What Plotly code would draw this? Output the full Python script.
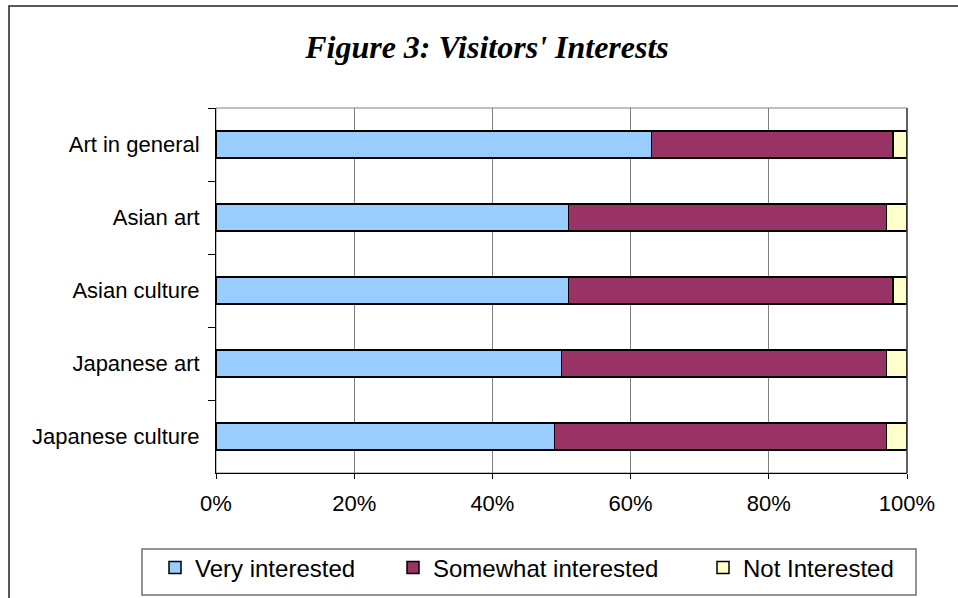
import plotly.graph_objects as go

categories = ["Art in general", "Asian art", "Asian culture", "Japanese art", "Japanese culture"]
very_interested = [63, 51, 51, 50, 49]
somewhat_interested = [35, 46, 47, 47, 48]
not_interested = [2, 3, 2, 3, 3]
x_tick_values = [0, 20, 40, 60, 80, 100]
x_tick_labels = ["0%", "20%", "40%", "60%", "80%", "100%"]

W, H = 958, 598
L, R, T, B = 216, 907, 108, 473  # plot area in px


def px_x(p):
    return (p - L) / (R - L)


def px_y(p):
    return (B - p) / (B - T)


sans = "Liberation Sans, Arial, sans-serif"
serif = "Liberation Serif, Times New Roman, serif"

fig = go.Figure()
series = [
    ("Very interested", very_interested, "#99CCFF", "legend"),
    ("Somewhat interested", somewhat_interested, "#993366", "legend2"),
    ("Not Interested", not_interested, "#FFFFCC", "legend3"),
]
for name, vals, color, lg in series:
    fig.add_trace(go.Bar(
        y=categories, x=vals, name=name, orientation="h",
        marker=dict(color=color, line=dict(color="#000000", width=1.5)),
        legend=lg, showlegend=True,
    ))

legend_common = dict(orientation="h", xanchor="left", yanchor="middle",
                     bgcolor="rgba(0,0,0,0)", borderwidth=0,
                     font=dict(family=sans, size=24, color="#000000"))

fig.update_layout(
    width=W, height=H,
    margin=dict(l=L, r=W - R, t=T, b=H - B, autoexpand=False),
    paper_bgcolor="#FFFFFF",
    plot_bgcolor="rgba(0,0,0,0)",
    barmode="stack",
    bargap=0.63,
    showlegend=True,
    title=dict(text="Figure 3: Visitors' Interests", xref="container", yref="container",
               x=487 / W, xanchor="center", y=1 - 47 / H, yanchor="middle",
               font=dict(family=serif, size=32, color="#000000", weight="bold", style="italic")),
    xaxis=dict(range=[0, 100], tickvals=x_tick_values, ticktext=x_tick_labels,
               showgrid=True, gridcolor="#808080", gridwidth=1,
               showline=True, linecolor="#000000", linewidth=1,
               ticks="outside", ticklen=5, tickcolor="#000000",
               ticklabelstandoff=6,
               tickfont=dict(family=sans, size=22, color="#000000"),
               zeroline=False, fixedrange=True),
    yaxis=dict(autorange="reversed", type="category",
               showline=True, linecolor="#000000", linewidth=1,
               ticks="outside", ticklen=7, tickcolor="#000000", tickson="boundaries",
               ticklabelstandoff=11,
               showgrid=False,
               tickfont=dict(family=sans, size=22, color="#000000")),
    legend=dict(x=px_x(155), y=px_y(568), **legend_common),
    legend2=dict(x=px_x(393), y=px_y(568), **legend_common),
    legend3=dict(x=px_x(703), y=px_y(568), **legend_common),
    shapes=[
        # plot area border
        dict(type="rect", xref="paper", yref="paper", x0=0, x1=1, y0=0, y1=1,
             line=dict(color="#808080", width=1), layer="below"),
        # right edge of plot area (darker, as in the reference)
        dict(type="line", xref="paper", yref="paper", x0=1, x1=1, y0=0, y1=1,
             line=dict(color="#404040", width=1.5)),
        # legend box
        dict(type="rect", xref="paper", yref="paper",
             x0=px_x(142), x1=px_x(916), y0=px_y(549), y1=px_y(595),
             line=dict(color="#707070", width=1.5), fillcolor="rgba(0,0,0,0)"),
        # outer chart frame
        dict(type="rect", xref="paper", yref="paper",
             x0=px_x(9), x1=px_x(975), y0=px_y(6), y1=px_y(615),
             line=dict(color="#222222", width=1.5), fillcolor="rgba(0,0,0,0)"),
    ],
)

fig.write_html("out.html", config={"displayModeBar": False},
               post_script="document.body.style.margin='0';")
